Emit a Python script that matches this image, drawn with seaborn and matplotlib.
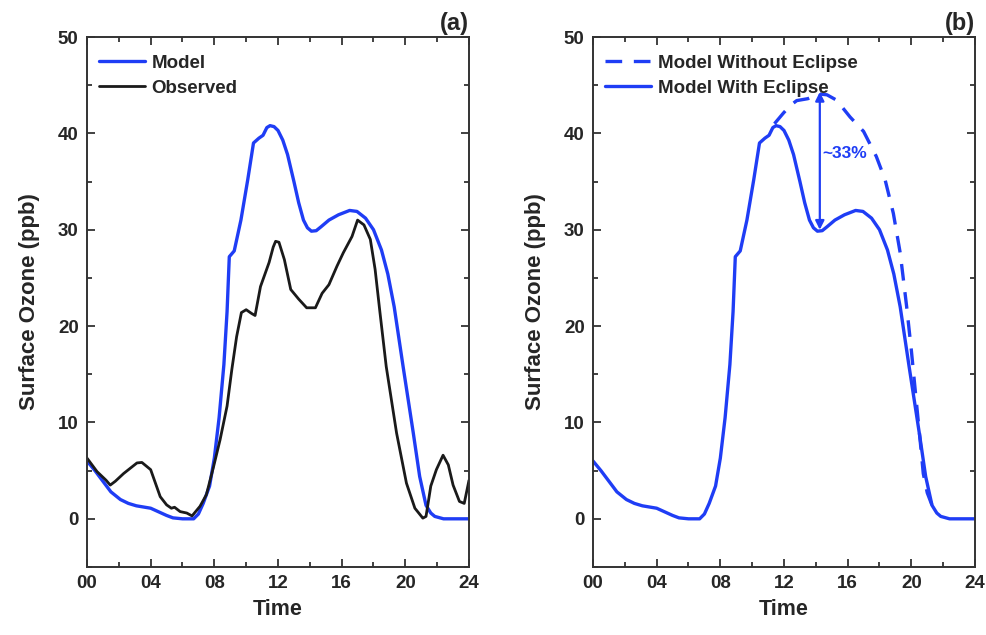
import matplotlib
matplotlib.use("Agg")
import matplotlib.pyplot as plt
from matplotlib.ticker import MultipleLocator, FuncFormatter
import seaborn as sns
import pandas as pd

# ──────────────────────────────────────────────
# DATA (hours vs ppb)
# ──────────────────────────────────────────────

model_hour = [0, 0.5, 1.0, 1.5, 2.1, 2.6, 3.1, 4.0, 4.6, 5.0, 5.4, 6.0, 6.7, 7.0,
              7.3, 7.7, 8.0, 8.3, 8.6, 8.8, 8.94, 9.25, 9.67, 10.1, 10.46, 10.8,
              11.06, 11.3, 11.5, 11.75, 12.0, 12.3, 12.6, 13.0, 13.3, 13.6, 13.85,
              14.1, 14.4, 14.7, 15.2, 15.8, 16.5, 16.96, 17.5, 18.0, 18.5, 18.9,
              19.3, 19.86, 20.5, 20.9, 21.3, 21.6, 21.85, 22.4, 23.0, 24.0]
model_ppb = [6.0, 5.0, 3.9, 2.8, 2.0, 1.6, 1.35, 1.1, 0.65, 0.35, 0.1, 0.0, 0.0, 0.5,
             1.6, 3.4, 6.3, 10.5, 16.0, 21.5, 27.2, 27.8, 31.0, 35.2, 39.0, 39.5,
             39.8, 40.6, 40.8, 40.7, 40.3, 39.3, 37.8, 35.0, 32.8, 31.0, 30.2,
             29.85, 29.9, 30.3, 31.0, 31.55, 32.0, 31.9, 31.2, 30.0, 27.9, 25.4,
             22.0, 15.8, 8.9, 4.4, 1.4, 0.6, 0.25, 0.0, 0.0, 0.0]

obs_hour = [0, 0.63, 1.2, 1.46, 1.78, 2.3, 3.14, 3.45, 4.0, 4.3, 4.6, 5.0, 5.3, 5.5,
            5.85, 6.27, 6.6, 7.1, 7.5, 7.95, 8.36, 8.8, 9.1, 9.4, 9.7, 10.0,
            10.35, 10.56, 10.9, 11.44, 11.7, 11.85, 12.06, 12.4, 12.8, 13.3, 13.8,
            14.35, 14.77, 15.2, 15.7, 16.1, 16.65, 17.0, 17.4, 17.8, 18.1,
            18.4, 18.8, 19.45, 20.07, 20.6, 21.1, 21.3, 21.6, 21.95, 22.37,
            22.7, 23.0, 23.4, 23.7, 24.0]
obs_ppb = [6.3, 4.9, 4.0, 3.5, 3.9, 4.7, 5.8, 5.85, 5.1, 3.7, 2.3, 1.45, 1.1, 1.2,
           0.75, 0.6, 0.3, 1.3, 2.5, 5.4, 8.2, 11.7, 15.5, 18.9, 21.4, 21.7,
           21.3, 21.1, 24.1, 26.6, 28.2, 28.8, 28.7, 26.9, 23.8, 22.8, 21.9,
           21.9, 23.4, 24.3, 26.2, 27.6, 29.3, 31.0, 30.5, 29.0, 25.9,
           21.5, 15.8, 8.9, 3.7, 1.1, 0.07, 0.25, 3.4, 5.1, 6.6,
           5.6, 3.5, 1.8, 1.6, 4.0]

# model without eclipse: only the part that departs from the eclipse run
noecl_hour = [11.4, 11.96, 12.4, 12.8, 13.5, 14.16, 14.7, 15.3, 16.15, 17.0, 17.8,
              18.35, 18.87, 19.3, 19.7, 20.0, 20.3, 20.55, 20.75, 21.0, 21.3]
noecl_ppb = [41.0, 42.1, 42.9, 43.4, 43.6, 44.1, 44.0, 43.45, 41.7, 40.2, 37.6,
             35.2, 31.7, 27.6, 22.1, 17.5, 12.4, 8.2, 4.7, 2.7, 1.4]

arrow_hour = 14.25
arrow_top, arrow_bottom = 44.3, 30.0
drop_label = "~33%"

BLUE = "#1f3df5"
BLACK = "#1a1a1a"

sns.set_style("ticks")
plt.rcParams["font.family"] = ["Liberation Sans", "DejaVu Sans"]
plt.rcParams["font.weight"] = "bold"
plt.rcParams["axes.labelweight"] = "bold"

model_df = pd.DataFrame({"Time": model_hour, "Ozone": model_ppb})
obs_df = pd.DataFrame({"Time": obs_hour, "Ozone": obs_ppb})
noecl_df = pd.DataFrame({"Time": noecl_hour, "Ozone": noecl_ppb})

fig = plt.figure(figsize=(9.87, 6.35), dpi=100)
W, H = 987, 635
ax_a = fig.add_axes([87 / W, 1 - 567 / H, 382 / W, 530 / H])
ax_b = fig.add_axes([593 / W, 1 - 567 / H, 382 / W, 530 / H])


def style_axis(ax, tag):
    ax.set_xlim(0, 24)
    ax.set_ylim(-5, 50)
    ax.xaxis.set_major_locator(MultipleLocator(4))
    ax.xaxis.set_minor_locator(MultipleLocator(2))
    ax.yaxis.set_major_locator(MultipleLocator(10))
    ax.yaxis.set_minor_locator(MultipleLocator(5))
    ax.xaxis.set_major_formatter(FuncFormatter(lambda v, p: f"{int(v):02d}"))
    ax.tick_params(which="both", direction="in", top=True, right=True,
                   color="#333333", width=1.3)
    ax.tick_params(which="major", length=6, labelsize=13.5, pad=6)
    ax.tick_params(which="minor", length=3.5)
    for lab in ax.get_xticklabels() + ax.get_yticklabels():
        lab.set_fontweight("bold")
    for sp in ax.spines.values():
        sp.set_visible(True)
        sp.set_color("#333333")
        sp.set_linewidth(1.4)
    ax.set_xlabel("Time", fontsize=15.5, fontweight="bold", labelpad=5)
    ax.set_ylabel("Surface Ozone (ppb)", fontsize=16, fontweight="bold", labelpad=13)
    ax.text(1.0, 1.003, tag, transform=ax.transAxes, ha="right", va="bottom",
            fontsize=17, fontweight="bold")


def place_legend(ax):
    ax.legend(loc="upper left", bbox_to_anchor=(0.0, 0.99), frameon=False,
              handlelength=2.45, borderaxespad=0.25, labelspacing=0.42,
              handletextpad=0.35, prop={"weight": "bold", "size": 13.5})


# ── panel (a) ──
sns.lineplot(data=model_df, x="Time", y="Ozone", ax=ax_a, color=BLUE,
             linewidth=2.4, label="Model", sort=False, estimator=None)
sns.lineplot(data=obs_df, x="Time", y="Ozone", ax=ax_a, color=BLACK,
             linewidth=2.0, label="Observed", sort=False, estimator=None)
style_axis(ax_a, "(a)")
place_legend(ax_a)

# ── panel (b) ──
sns.lineplot(data=noecl_df, x="Time", y="Ozone", ax=ax_b, color=BLUE,
             linewidth=2.4, linestyle=(0, (5, 3.5)), label="Model Without Eclipse",
             sort=False, estimator=None)
sns.lineplot(data=model_df, x="Time", y="Ozone", ax=ax_b, color=BLUE,
             linewidth=2.4, label="Model With Eclipse", sort=False, estimator=None)
style_axis(ax_b, "(b)")
place_legend(ax_b)
ax_b.annotate("", xy=(arrow_hour, arrow_top), xytext=(arrow_hour, arrow_bottom),
              arrowprops=dict(arrowstyle="<|-|>", color=BLUE, lw=1.6,
                              mutation_scale=13, shrinkA=0, shrinkB=0))
ax_b.text(arrow_hour + 0.15, 37.9, drop_label, color=BLUE, fontsize=12.5,
          fontweight="bold", ha="left", va="center")

fig.savefig("out.png", dpi=100)
